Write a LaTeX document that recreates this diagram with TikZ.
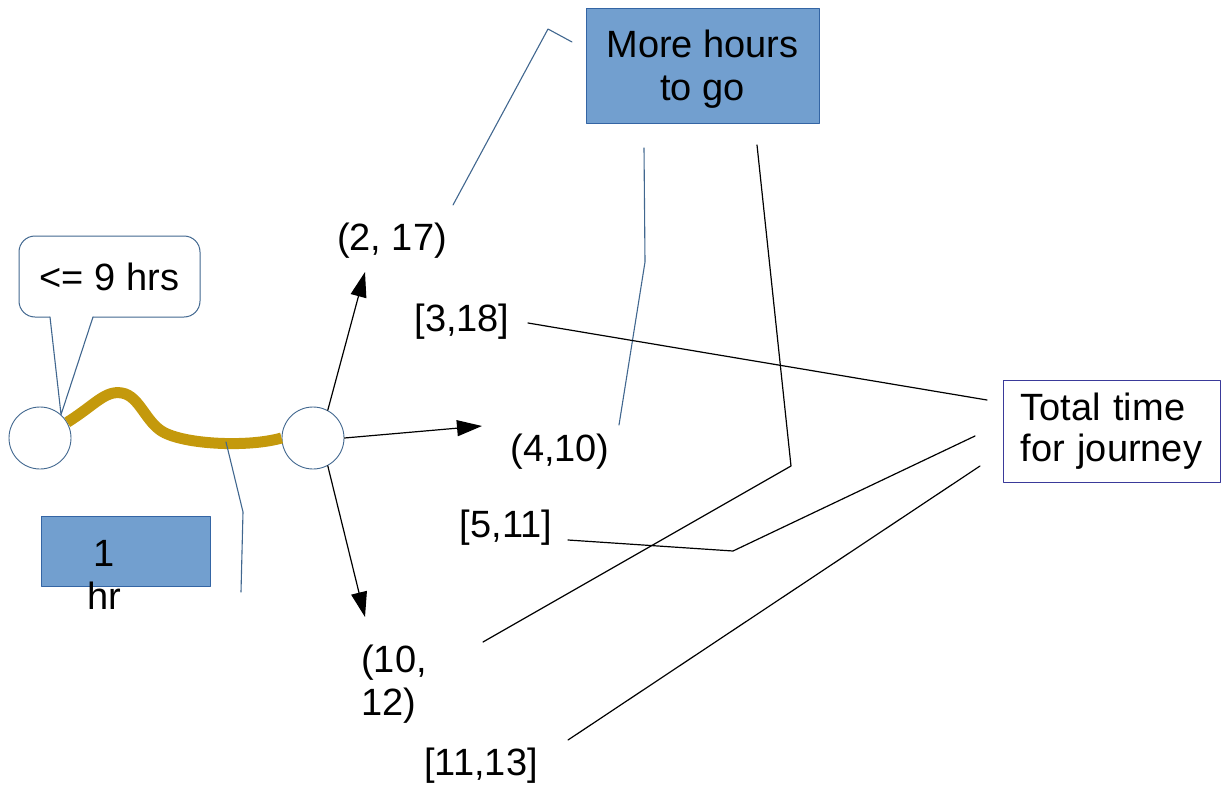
\documentclass[tikz,border=0pt]{standalone}
\usepackage{fontspec}
\setmainfont{Liberation Sans}
\usetikzlibrary{arrows.meta}
\definecolor{boxblue}{HTML}{729FCF}
\definecolor{boxedge}{HTML}{3465A4}
\definecolor{routegold}{HTML}{C4990C}
\definecolor{noteblue}{HTML}{41678F}
\definecolor{totedge}{HTML}{3A3A9A}

\begin{document}
\begin{tikzpicture}[x=1pt,y=-1pt,line cap=round,line join=round,
        >={Triangle[length=25pt,width=16pt]},
        every node/.style={font=\fontsize{38}{43}\selectfont},
        stop/.style={circle,draw=noteblue,fill=white,line width=0.9pt,minimum size=62pt,inner sep=0pt},
        bluebox/.style={draw=boxedge,fill=boxblue,line width=0.9pt,inner sep=0pt},
        note/.style={draw=noteblue,line width=1.1pt},
        tie/.style={draw=black,line width=1.2pt}]
    \useasboundingbox (0,0) rectangle (1225,789);

    % the two stops and the leg between them
    \node (orig) [stop] at (40,438) {};
    \node (via) [stop] at (313,438) {};
    \draw [routegold,line width=11pt,line cap=butt] (orig.30) .. controls (95,405) and (105,390) .. (122,393)
        .. controls (140,396) and (146,424) .. (165,433) .. controls (190,445) and (250,447) .. (via.west);

    % callout on the first stop
    \node (limit) [draw=noteblue,line width=1pt,rounded corners=16pt,minimum width=181pt,minimum height=81pt] at (109.5,276.5) {<= 9 hrs};
    \fill [white] (50,315.5) -- (62,413) -- (93,315.5) -- cycle;
    \draw [note] (50,317) -- (orig.48) -- (93,317);

    % duration of the leg
    \node (hourbox) [bluebox,minimum width=169pt,minimum height=70pt] at (125.5,551) {};
    \node (hourtxt) [align=center,inner sep=0pt] at (104,575) {1\\hr};
    \coordinate (h1) at (226,442);
    \coordinate (h2) at (243,512);
    \coordinate (h3) at (241,592);
    \draw [note] (h1) -- (h2) -- (h3);

    % onward states
    \node (s17) at (392,241) {(2, 17)};
    \node (s318) at (462,322) {[3,18]};
    \node (s410) at (560,452) {(4,10)};
    \node (s511) at (506,528) {[5,11]};
    \node (s1012) [align=left] at (394,684) {(10,\\12)};
    \node (s1113) at (481,766) {[11,13]};

    \coordinate (t17) at (365,272);
    \coordinate (t410) at (482,426);
    \coordinate (t1012) at (365,617);
    \draw [->,line width=1.2pt] (via.62) -- (t17);
    \draw [->,line width=1.2pt] (via.east) -- (t410);
    \draw [->,line width=1.2pt] (via.-62) -- (t1012);

    % labels on the right
    \node (more) [bluebox,minimum width=233pt,minimum height=115pt,align=center,text depth=0pt] at (702.5,65.5) {More hours\\to go};
    \node (total) [draw=totedge,line width=1pt,minimum width=217pt,minimum height=102pt,align=left,text width=182pt,inner sep=0pt,
        font=\fontsize{38}{41}\selectfont] at (1111.5,431) {Total time\\for journey};

    \coordinate (m1) at (453,205);
    \coordinate (m2) at (548,29);
    \coordinate (m3) at (572,42);
    \draw [note] (m1) -- (m2) -- (m3);
    \coordinate (m4) at (644,148);
    \coordinate (m5) at (645,262);
    \coordinate (m6) at (619,425);
    \draw [note] (m4) -- (m5) -- (m6);
    \coordinate (m7) at (757,145);
    \coordinate (m8) at (791,466);
    \coordinate (m9) at (483,642);
    \draw [tie] (m7) -- (m8) -- (m9);

    \coordinate (g1) at (528,323);
    \coordinate (g2) at (987,400);
    \draw [tie] (g1) -- (g2);
    \coordinate (g3) at (568,540);
    \coordinate (g4) at (733,551);
    \coordinate (g5) at (975,436);
    \draw [tie] (g3) -- (g4) -- (g5);
    \coordinate (g6) at (568,740);
    \coordinate (g7) at (980,466);
    \draw [tie] (g6) -- (g7);
\end{tikzpicture}
\end{document}
